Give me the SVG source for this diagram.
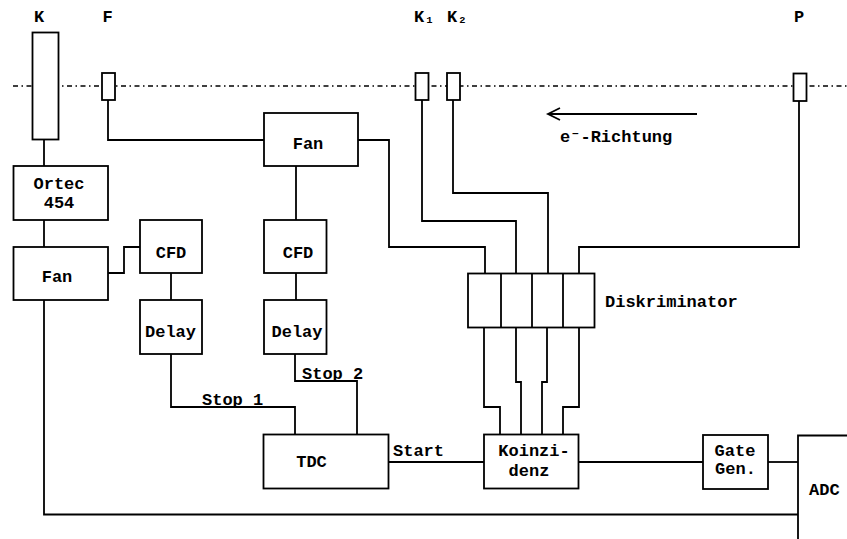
<svg xmlns="http://www.w3.org/2000/svg" width="847" height="539" viewBox="0 0 847 539">
<style>
.box{fill:#fff;stroke:#000;stroke-width:1.8}
.w{fill:none;stroke:#000;stroke-width:1.8}
.axis{fill:none;stroke:#000;stroke-width:1.6;stroke-dasharray:5 3.5 1.5 3.5}
text{font-family:"Liberation Mono","DejaVu Sans Mono",monospace;font-size:17px;font-weight:bold;fill:#000}
.c{text-anchor:middle}
</style>
<rect width="847" height="539" fill="#fff"/>
<line class="axis" x1="13" y1="86" x2="847" y2="86"/>
<g id="connectors">
<polyline class="w" points="44,139 44,166"/>
<polyline class="w" points="44,220 44,247"/>
<polyline class="w" points="108,273 124,273 124,247 140,247"/>
<polyline class="w" points="171,273 171,300"/>
<polyline class="w" points="108,100 108,140 264,140"/>
<polyline class="w" points="296,166 296,220"/>
<polyline class="w" points="296,273 296,300"/>
<polyline class="w" points="358,140 389,140 389,247 485,247 485,273"/>
<polyline class="w" points="422,100 422,221 516,221 516,273"/>
<polyline class="w" points="453,100 453,193 548,193 548,273"/>
<polyline class="w" points="799,101 799,247 579,247 579,273"/>
<polyline class="w" points="171,354 171,407 295,407 295,434"/>
<polyline class="w" points="295,354 295,381 357,381 357,434"/>
<polyline class="w" points="484,328 484,407 500,407 500,434"/>
<polyline class="w" points="516,328 516,382 521,382 521,434"/>
<polyline class="w" points="547,328 547,382 542,382 542,434"/>
<polyline class="w" points="579,328 579,407 563,407 563,434"/>
<polyline class="w" points="388,462 484,462"/>
<polyline class="w" points="578,462 703,462"/>
<polyline class="w" points="768,462 798,462"/>
<polyline class="w" points="44,300 44,514.5 798,514.5"/>
<text x="202" y="405">Stop 1</text>
<text x="302" y="379">Stop 2</text>
<text x="393" y="455.5">Start</text>
</g>
<g id="arrow">
<line class="w" x1="548" y1="114" x2="697" y2="114"/>
<polyline class="w" points="560,108 548,114 560,120"/>
<text x="560" y="141.5">e⁻-Richtung</text>
</g>
<g id="K"><rect class="box" x="32.5" y="32.5" width="26" height="107"/><text class="c" x="39" y="22">K</text></g>
<g id="F"><rect class="box" x="102" y="73" width="13" height="27"/><text class="c" x="107.5" y="22">F</text></g>
<g id="K1"><rect class="box" x="415.5" y="73" width="13" height="27"/><text x="414" y="22">K₁</text></g>
<g id="K2"><rect class="box" x="447" y="73" width="13" height="27"/><text x="447" y="22">K₂</text></g>
<g id="P"><rect class="box" x="793.5" y="73.5" width="13" height="27.5"/><text class="c" x="799" y="22">P</text></g>
<g id="ortec"><rect class="box" x="13.5" y="166" width="94.5" height="54"/><text class="c" x="59" y="189">Ortec</text><text class="c" x="59" y="208">454</text></g>
<g id="fan1"><rect class="box" x="13.5" y="247" width="94.5" height="53"/><text class="c" x="57" y="282">Fan</text></g>
<g id="cfd1"><rect class="box" x="140" y="220" width="62" height="53"/><text class="c" x="171" y="258">CFD</text></g>
<g id="delay1"><rect class="box" x="140" y="300" width="62" height="54"/><text class="c" x="170.5" y="337">Delay</text></g>
<g id="fan2"><rect class="box" x="264" y="113" width="94" height="53"/><text class="c" x="308" y="149">Fan</text></g>
<g id="cfd2"><rect class="box" x="264" y="220" width="62.5" height="53"/><text class="c" x="298" y="258">CFD</text></g>
<g id="delay2"><rect class="box" x="264" y="300" width="62.5" height="54"/><text class="c" x="297" y="337">Delay</text></g>
<g id="tdc"><rect class="box" x="263.5" y="434.5" width="125" height="54"/><text class="c" x="311.5" y="467">TDC</text></g>
<g id="diskriminator">
<rect class="box" x="468" y="273.5" width="126.5" height="54"/>
<line class="w" x1="501" y1="273.5" x2="501" y2="327.5"/>
<line class="w" x1="532" y1="273.5" x2="532" y2="327.5"/>
<line class="w" x1="563" y1="273.5" x2="563" y2="327.5"/>
<text x="605" y="307">Diskriminator</text>
</g>
<g id="koinzidenz"><rect class="box" x="484" y="434.5" width="94.5" height="54"/><text class="c" x="534" y="456">Koinzi-</text><text class="c" x="529" y="475.5">denz</text></g>
<g id="gategen"><rect class="box" x="703" y="435" width="65" height="54"/><text class="c" x="735" y="456">Gate</text><text class="c" x="735.5" y="474">Gen.</text></g>
<g id="adc"><polyline class="w" points="798,539 798,435.5 847,435.5"/><text x="809" y="495">ADC</text></g>
</svg>
